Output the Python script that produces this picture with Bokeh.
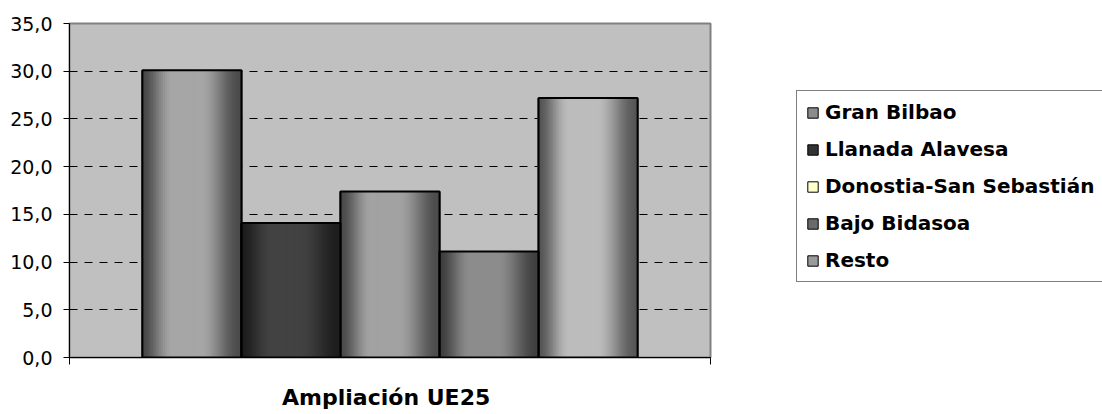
from bokeh.plotting import figure
from bokeh.layouts import row
from bokeh.models import (ColumnDataSource, Range1d, FixedTicker, Legend, LegendItem)
from bokeh.embed import file_html
from bokeh.resources import INLINE

# ---- data ----
group_label = "Ampliación  UE25"
series = ["Gran Bilbao", "Llanada Alavesa", "Donostia-San Sebastián", "Bajo Bidasoa", "Resto"]
values = [30.1, 14.1, 17.4, 11.1, 27.2]
y_ticks = [0, 5, 10, 15, 20, 25, 30, 35]
y_tick_labels = ["0,0", "5,0", "10,0", "15,0", "20,0", "25,0", "30,0", "35,0"]

# ---- styles ----
edge_rgb = [(0x46, 0x46, 0x46), (0x1c, 0x1c, 0x1c), (0x48, 0x48, 0x48), (0x3c, 0x3c, 0x3c), (0x52, 0x52, 0x52)]
peak_rgb = [(0xa6, 0xa6, 0xa6), (0x42, 0x42, 0x42), (0xa2, 0xa2, 0xa2), (0x8c, 0x8c, 0x8c), (0xbc, 0xbc, 0xbc)]
legend_colors = ["#8c8c8c", "#333333", "#FFFFCC", "#6a6a6a", "#9a9a9a"]
BAR_W = 0.1545
N_STRIPS = 50

def profile(t):
    def ss(a):
        a = max(0.0, min(1.0, a))
        return a * a * (3 - 2 * a)
    if t < 0.32:
        return ss(t / 0.32)
    if t < 0.6:
        return 1.0
    return 1.0 - ss((t - 0.6) / 0.4) * 0.95

centers = [0.5 + (i - 2) * BAR_W for i in range(len(values))]

strip = dict(x=[], top=[], color=[])
for i, v in enumerate(values):
    for k in range(N_STRIPS):
        t = (k + 0.5) / N_STRIPS
        f = profile(t)
        e, pk = edge_rgb[i], peak_rgb[i]
        c = tuple(int(round(e[j] + (pk[j] - e[j]) * f)) for j in range(3))
        strip["x"].append(centers[i] - BAR_W / 2 + t * BAR_W)
        strip["top"].append(v)
        strip["color"].append("#%02x%02x%02x" % c)

bars = ColumnDataSource(dict(x=centers, top=values, name=series))

p = figure(width=714, height=414, output_backend="svg", toolbar_location=None,
           x_range=Range1d(0, 1), y_range=Range1d(0, 35),
           min_border_left=69, min_border_right=4, min_border_top=23, min_border_bottom=57)
p.background_fill_color = "#C0C0C0"
p.border_fill_color = "white"
p.outline_line_color = "#808080"
p.outline_line_width = 2

# gradient strips (overlapping to avoid seams)
p.vbar(x="x", top="top", bottom=0, width=BAR_W / N_STRIPS * 2.2, source=ColumnDataSource(strip),
       fill_color="color", line_color=None)
# outlines
p.vbar(x="x", top="top", bottom=0, width=BAR_W, source=bars,
       fill_alpha=0, line_color="black", line_width=2)

# y axis
p.yaxis.ticker = FixedTicker(ticks=y_ticks)
p.yaxis.major_label_overrides = {t: l for t, l in zip(y_ticks, y_tick_labels)}
p.yaxis.major_label_text_font = "DejaVu Sans"
p.yaxis.major_label_text_font_size = "19px"
p.yaxis.major_label_text_color = "black"
p.yaxis.major_tick_out = 6
p.yaxis.major_tick_in = 0
p.yaxis.minor_tick_out = 0
p.yaxis.minor_tick_in = 0
p.yaxis.major_label_standoff = 11
p.yaxis.axis_line_color = "black"
p.yaxis.major_tick_line_color = "black"

# x axis
p.xaxis.ticker = FixedTicker(ticks=[0.5], minor_ticks=[0, 1])
p.xaxis.major_label_overrides = {0.5: group_label}
p.xaxis.major_label_text_font = "DejaVu Sans"
p.xaxis.major_label_text_font_style = "bold"
p.xaxis.major_label_text_font_size = "22px"
p.xaxis.major_label_text_color = "black"
p.xaxis.major_tick_out = 0
p.xaxis.major_tick_in = 0
p.xaxis.minor_tick_out = 7
p.xaxis.minor_tick_in = 0
p.xaxis.minor_tick_line_color = "black"
p.xaxis.minor_tick_line_width = 1
p.xaxis.major_label_standoff = 20
p.xaxis.axis_line_color = "black"

# grid
p.xgrid.visible = False
p.ygrid.ticker = FixedTicker(ticks=y_ticks[1:-1])
p.ygrid.grid_line_color = "black"
p.ygrid.grid_line_dash = "8 7"
p.ygrid.grid_line_width = 1

# ---- legend panel ----
lp = figure(width=388, height=414, output_backend="svg", toolbar_location=None,
            x_range=Range1d(0, 1), y_range=Range1d(0, 1),
            x_axis_type=None, y_axis_type=None,
            min_border_left=0, min_border_right=0, min_border_top=0, min_border_bottom=0)
lp.outline_line_color = None
lp.background_fill_color = "white"
lp.border_fill_color = "white"
lp.xgrid.visible = False
lp.ygrid.visible = False

swatch_renderers = []
for i in range(len(series)):
    # one point outside the visible range: only its legend swatch is seen
    r = lp.vbar(x=[10], top=[1], width=0.1, fill_color=legend_colors[i], line_color="black", line_width=1)
    swatch_renderers.append(r)

legend = Legend(items=[LegendItem(label=s, renderers=[r]) for s, r in zip(series, swatch_renderers)],
                location=(82, 75), margin=0)
legend.label_text_font = "DejaVu Sans"
legend.label_text_font_style = "bold"
legend.label_text_font_size = "20px"
legend.label_text_color = "black"
legend.glyph_width = 13
legend.glyph_height = 13
legend.label_standoff = 6
legend.padding = 9
legend.spacing = 13
legend.label_height = 20
legend.border_line_color = "black"
legend.border_line_width = 1
legend.background_fill_color = "white"
legend.background_fill_alpha = 1
lp.add_layout(legend)

layout = row(p, lp, spacing=0)
open("out.html", "w").write(file_html(layout, INLINE))
